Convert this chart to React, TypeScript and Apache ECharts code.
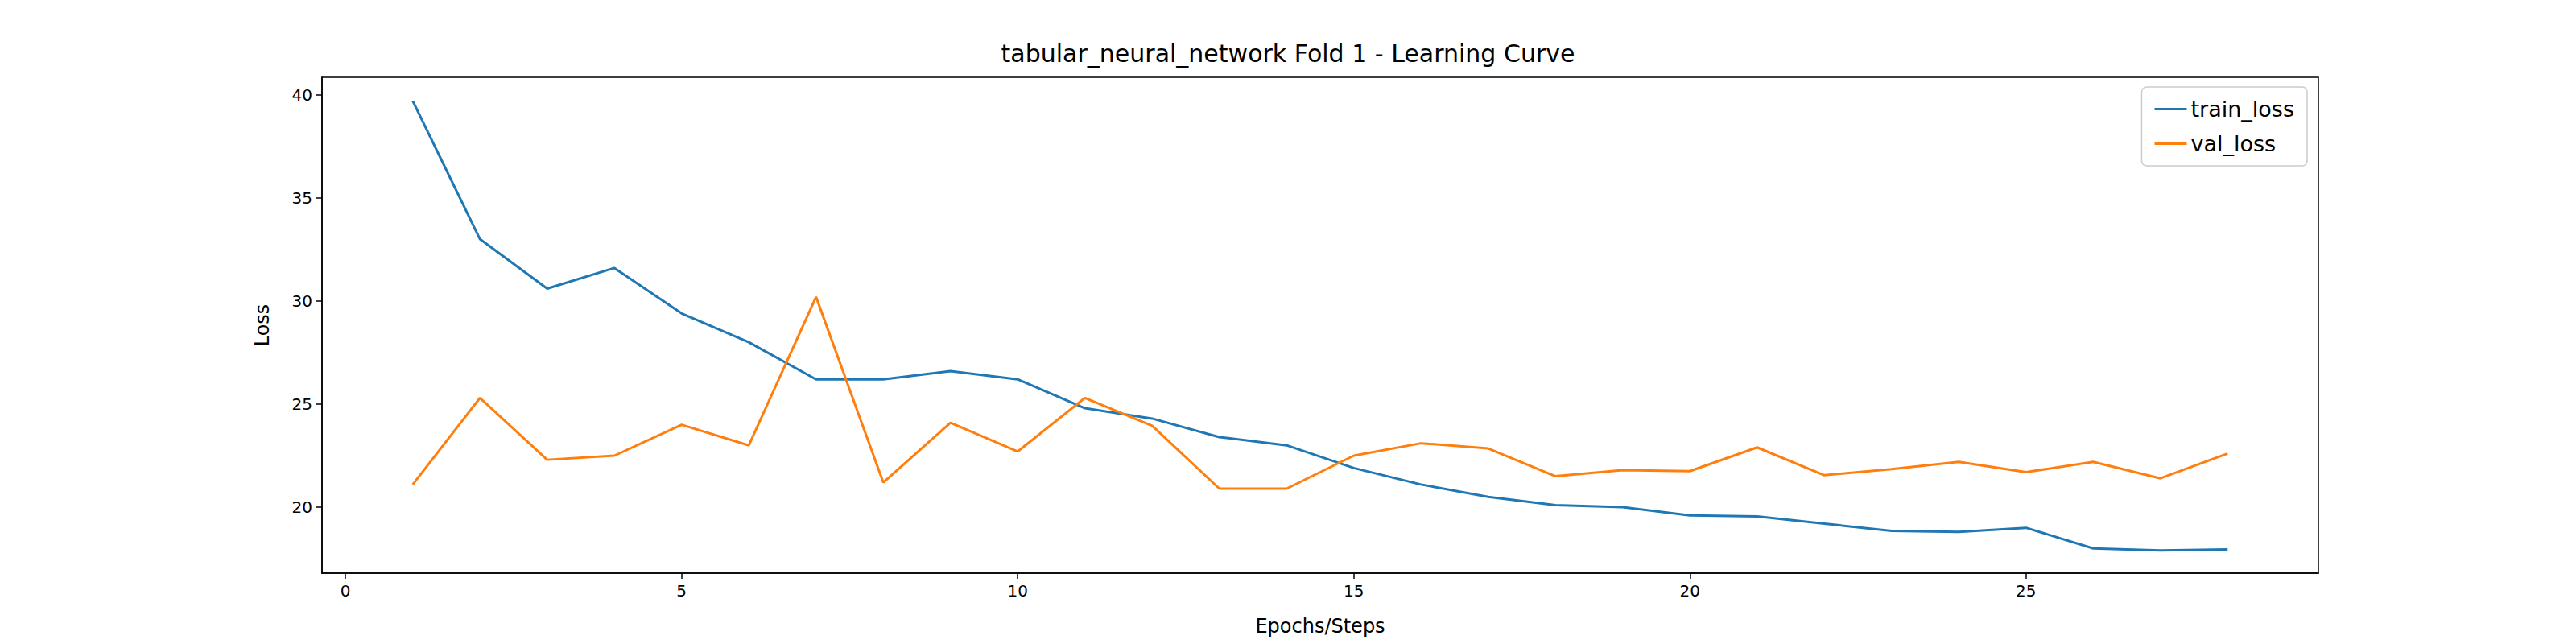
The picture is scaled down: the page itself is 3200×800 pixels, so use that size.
import { useEffect, useRef } from "react";
import * as echarts from "echarts";

const EPOCHS = Array.from({ length: 28 }, (_, i) => i + 1);
const TRAIN_LOSS = [
  39.7, 33.0, 30.6, 31.6, 29.4, 28.0, 26.2, 26.2, 26.6, 26.2, 24.8, 24.3, 23.4, 23.0,
  21.9, 21.1, 20.5, 20.1, 20.0, 19.6, 19.55, 19.2, 18.85, 18.8, 19.0, 18.0, 17.9, 17.95,
];
const VAL_LOSS = [
  21.1, 25.3, 22.3, 22.5, 24.0, 23.0, 30.2, 21.2, 24.1, 22.7, 25.3, 23.95, 20.9, 20.9,
  22.5, 23.1, 22.85, 21.5, 21.8, 21.75, 22.9, 21.55, 21.85, 22.2, 21.7, 22.2, 21.4, 22.6,
];
const X_TICKS = [0, 5, 10, 15, 20, 25];
const Y_TICKS = [20, 25, 30, 35, 40];

const FONT = "DejaVu Sans, sans-serif";

export default function App() {
  const ref = useRef<HTMLDivElement | null>(null);

  useEffect(() => {
    if (!ref.current) return;
    const chart = echarts.init(ref.current, undefined, { renderer: "svg" });
    const axisCommon = {
      axisLine: { show: true, onZero: false, lineStyle: { color: "#000", width: 1.5 } },
      axisTick: { show: true, inside: false, length: 7, lineStyle: { color: "#000", width: 1.5 } },
      splitLine: { show: false },
      nameTextStyle: { color: "#000", fontFamily: FONT, fontSize: 24 },
    };
    chart.setOption({
      animation: false,
      backgroundColor: "#fff",
      color: ["#1f77b4", "#ff7f0e"],
      title: {
        text: "tabular_neural_network Fold 1 - Learning Curve",
        left: "center",
        top: 46,
        textStyle: { fontFamily: FONT, fontSize: 30, fontWeight: "normal", color: "#000" },
      },
      legend: {
        right: 334,
        top: 108,
        orient: "vertical",
        itemWidth: 40,
        itemHeight: 3,
        itemGap: 16,
        padding: [14, 16, 14, 16],
        borderColor: "#ccc",
        borderWidth: 1.5,
        borderRadius: 6,
        backgroundColor: "rgba(255,255,255,0.8)",
        icon: "rect",
        textStyle: { fontFamily: FONT, fontSize: 27, color: "#000" },
        data: ["train_loss", "val_loss"],
      },
      grid: { left: 400, right: 320, top: 96, bottom: 88, show: true, borderColor: "#000", borderWidth: 1.5 },
      xAxis: {
        ...axisCommon,
        type: "value",
        min: -0.35,
        max: 29.35,
        name: "Epochs/Steps",
        nameLocation: "middle",
        nameGap: 54,
        axisTick: { ...axisCommon.axisTick, customValues: X_TICKS },
        axisLabel: { customValues: X_TICKS, color: "#000", fontFamily: FONT, fontSize: 20, margin: 12 },
      },
      yAxis: {
        ...axisCommon,
        type: "value",
        min: 16.8,
        max: 40.85,
        name: "Loss",
        nameLocation: "middle",
        nameGap: 62,
        axisTick: { ...axisCommon.axisTick, customValues: Y_TICKS },
        axisLabel: { customValues: Y_TICKS, color: "#000", fontFamily: FONT, fontSize: 20, margin: 12 },
      },
      series: [
        {
          name: "train_loss",
          type: "line",
          showSymbol: false,
          lineStyle: { width: 3 },
          data: EPOCHS.map((e, i) => [e, TRAIN_LOSS[i]]),
        },
        {
          name: "val_loss",
          type: "line",
          showSymbol: false,
          lineStyle: { width: 3 },
          data: EPOCHS.map((e, i) => [e, VAL_LOSS[i]]),
        },
      ],
    });
    return () => chart.dispose();
  }, []);

  return <div ref={ref} style={{ position: "fixed", left: 0, top: 0, width: 3200, height: 800 }} />;
}
